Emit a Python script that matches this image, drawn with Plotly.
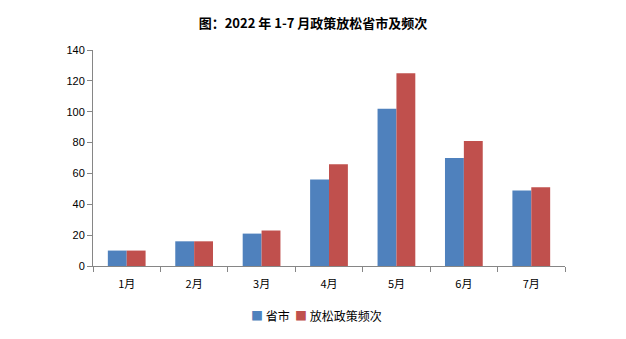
import plotly.graph_objects as go

months = ["1月", "2月", "3月", "4月", "5月", "6月", "7月"]
provinces = [10, 16, 21, 56, 102, 70, 49]
policy_counts = [10, 16, 23, 66, 125, 81, 51]
y_ticks = [0, 20, 40, 60, 80, 100, 120, 140]
series_names = ["省市", "放松政策频次"]
series_colors = ["#4F81BD", "#C0504D"]

fig = go.Figure()
for name, vals, col in zip(series_names, [provinces, policy_counts], series_colors):
    fig.add_trace(go.Bar(name=name, x=months, y=vals,
                         marker=dict(color=col, line=dict(width=0))))

tick_font = dict(family="Liberation Sans, Arial, sans-serif", size=11, color="#000000")

# compact legend row beneath the axis
legend_text = "  ".join(
    f"<span style='color:{c}'>■</span> {n}" for n, c in zip(series_names, series_colors)
)

fig.update_layout(
    width=626, height=339,
    margin=dict(l=93, r=61, t=50, b=73),
    paper_bgcolor="white", plot_bgcolor="white",
    barmode="group", bargap=0.44, bargroupgap=0,
    showlegend=False,
    title=dict(text="<b>图：2022 年 1-7 月政策放松省市及频次</b>",
               x=0.5, xanchor="center", y=0.93, yanchor="middle",
               font=dict(family="Noto Sans CJK SC", size=13, color="#000000")),
    xaxis=dict(showline=True, linecolor="#868686", linewidth=1,
               ticks="outside", tickson="boundaries", ticklen=5, tickcolor="#868686",
               ticklabelstandoff=8,
               tickfont=dict(family="Noto Sans CJK SC", size=11, color="#000000"),
               showgrid=False),
    yaxis=dict(range=[0, 140], tickvals=y_ticks, showline=True,
               linecolor="#868686", linewidth=1, ticks="outside", ticklen=5,
               tickcolor="#868686", tickfont=tick_font, showgrid=False,
               zeroline=False),
    annotations=[dict(
        text=legend_text, xref="paper", yref="paper",
        x=(316 - 93) / (626 - 93 - 61), y=(266 - 315) / (266 - 50),
        xanchor="center", yanchor="middle", showarrow=False,
        font=dict(family="Noto Sans CJK SC", size=12, color="#000000"))],
)

fig.write_html("out.html")
